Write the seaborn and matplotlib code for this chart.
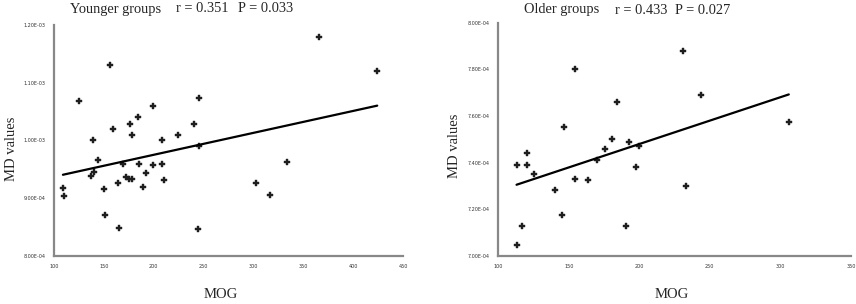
import numpy as np
import pandas as pd
import matplotlib
matplotlib.use("Agg")
import matplotlib.pyplot as plt
from matplotlib.ticker import FuncFormatter
import seaborn as sns

# ======================================
#           DATA
# ======================================
young_mog = [366, 424, 156, 125, 245, 199, 184, 159, 176, 240, 178, 224, 139, 208, 245,
             144, 169, 185, 199, 208, 140, 137, 172, 175, 178, 192, 164, 189, 210, 109,
             110, 150, 151, 165, 244, 303, 317, 334]
young_md = [1.179e-3, 1.121e-3, 1.131e-3, 1.069e-3, 1.074e-3, 1.060e-3, 1.040e-3, 1.019e-3,
            1.029e-3, 1.029e-3, 1.009e-3, 1.009e-3, 1.000e-3, 1.000e-3, 0.990e-3,
            0.967e-3, 0.959e-3, 0.959e-3, 0.957e-3, 0.960e-3, 0.945e-3, 0.938e-3, 0.936e-3,
            0.933e-3, 0.934e-3, 0.943e-3, 0.926e-3, 0.919e-3, 0.931e-3, 0.917e-3,
            0.903e-3, 0.916e-3, 0.871e-3, 0.848e-3, 0.847e-3, 0.926e-3, 0.905e-3, 0.962e-3]

old_mog = [231, 154.5, 244, 184, 147, 306, 181, 193, 200, 176,
           120.5, 113, 120.5, 125.5, 170, 197.5, 154.5, 164, 140, 233, 145, 117, 190.5, 113]
old_md = [7.877e-4, 7.80e-4, 7.69e-4, 7.66e-4, 7.555e-4, 7.575e-4, 7.50e-4, 7.49e-4, 7.47e-4, 7.46e-4,
          7.44e-4, 7.39e-4, 7.39e-4, 7.35e-4, 7.41e-4, 7.38e-4, 7.33e-4, 7.325e-4, 7.285e-4,
          7.30e-4, 7.175e-4, 7.13e-4, 7.13e-4, 7.045e-4]

young_title = ["Younger groups", "r = 0.351", "P = 0.033"]
old_title = ["Older groups", "r = 0.433", "P = 0.027"]
young_yticks = [8.0e-4, 9.0e-4, 1.0e-3, 1.1e-3, 1.2e-3]
old_yticks = [7.0e-4, 7.2e-4, 7.4e-4, 7.6e-4, 7.8e-4, 8.0e-4]
young_xticks = [100, 150, 200, 250, 300, 350, 400, 450]
old_xticks = [100, 150, 200, 250, 300, 350]

df_young = pd.DataFrame({"MOG": young_mog, "MD": young_md})
df_old = pd.DataFrame({"MOG": old_mog, "MD": old_md})

# ======================================
#           PLOT
# ======================================
sns.set_style("white")
plt.rcParams["font.family"] = ["DejaVu Sans"]
serif = ["Liberation Serif", "DejaVu Serif"]

fig = plt.figure(figsize=(8.56, 3.04), dpi=100)
ax1 = fig.add_axes([0.063, 0.158, 0.408, 0.76])
ax2 = fig.add_axes([0.582, 0.158, 0.412, 0.767])

panels = [
    (ax1, df_young, young_xticks, young_yticks, (100, 450), (8.0e-4, 1.2e-3)),
    (ax2, df_old, old_xticks, old_yticks, (100, 350), (7.0e-4, 8.0e-4)),
]

for ax, d, xt, yt, xl, yl in panels:
    sns.scatterplot(data=d, x="MOG", y="MD", ax=ax, marker="P", s=15,
                    color="#1e1e1e", edgecolor="#1e1e1e", linewidth=0.3)
    sns.regplot(data=d, x="MOG", y="MD", ax=ax, scatter=False, ci=None,
                line_kws={"color": "black", "linewidth": 1.6})
    ax.set_xlim(*xl)
    ax.set_ylim(*yl)
    ax.set_xticks(xt)
    ax.set_yticks(yt)
    ax.yaxis.set_major_formatter(FuncFormatter(lambda v, p: "{:.2E}".format(v)))
    ax.tick_params(axis="both", labelsize=3.5, length=0, pad=6, labelcolor="#333333")
    ax.set_xlabel("")
    ax.set_ylabel("")
    for s in ["top", "right"]:
        ax.spines[s].set_visible(False)
    for s in ["left", "bottom"]:
        ax.spines[s].set_color("#888888")
        ax.spines[s].set_linewidth(1.6)

# titles (three pieces each, spaced as in the picture)
for txt, xp in zip(young_title, [70, 176, 238]):
    fig.text(xp / 856, 1 - 9 / 304, txt, ha="left", va="center", fontsize=10.4, family=serif)
for txt, xp in zip(old_title, [524, 615, 675]):
    fig.text(xp / 856, 1 - 10 / 304, txt, ha="left", va="center", fontsize=10.4, family=serif)

fig.text(221 / 856, 1 - 295 / 304, "MOG", ha="center", va="center", fontsize=10.5, family=serif)
fig.text(672 / 856, 1 - 295 / 304, "MOG", ha="center", va="center", fontsize=10.5, family=serif)
fig.text(12 / 856, 1 - 149 / 304, "MD values", ha="center", va="center", rotation=90,
         fontsize=10.5, family=serif)
fig.text(455 / 856, 1 - 146 / 304, "MD values", ha="center", va="center", rotation=90,
         fontsize=10.5, family=serif)

plt.savefig("out.png", dpi=100)
